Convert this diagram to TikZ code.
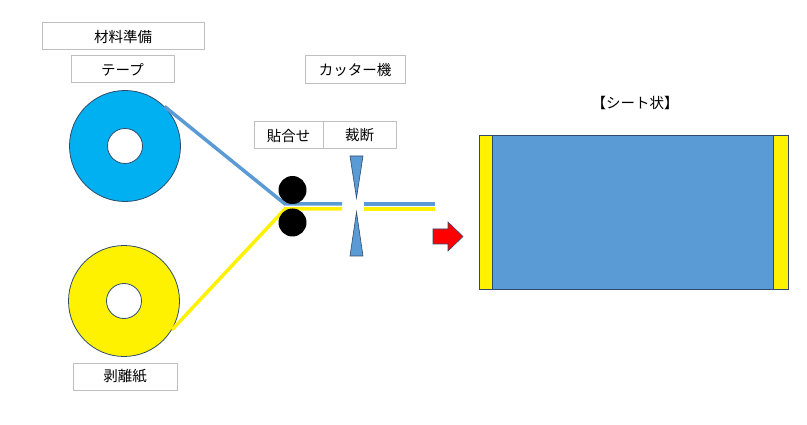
\documentclass[tikz,border=0pt]{standalone}
\usepackage{fontspec}
\newfontfamily\jp{Noto Sans CJK JP}
\usetikzlibrary{positioning}
\usetikzlibrary{calc}
\definecolor{tapeblue}{HTML}{00B0F0}
\definecolor{lineblue}{HTML}{5B9BD5}
\definecolor{edge}{HTML}{2F4B6B}
\definecolor{boxgray}{HTML}{BFBFBF}
\tikzstyle{etiquette}=[
        draw=boxgray,
        line width=1pt,
        inner sep=0pt,
        font=\jp\fontsize{14.5}{17}\selectfont
]
\tikzstyle{bobine}=[circle,draw=edge,line width=0.8pt,inner sep=0pt,minimum size=111pt]
\tikzstyle{trou}=[circle,draw=edge,line width=0.8pt,fill=white,inner sep=0pt,minimum size=35pt]
\tikzstyle{rouleau}=[circle,fill=black,inner sep=0pt,minimum size=28pt]
\tikzstyle{ruban}=[line width=3.5pt]
\tikzstyle{lame}=[draw=edge,line width=0.6pt,fill=lineblue]

\begin{document}
\begin{tikzpicture}[x=1pt,y=-1pt]
\useasboundingbox (0,0) rectangle (807,425);
\node[etiquette,minimum width=162pt,minimum height=27pt] (prep) at (123,36.5) {材料準備};
\node[etiquette,minimum width=103pt,minimum height=27pt] (tapelbl) at (122.5,69.5) {テープ};
\node[etiquette,minimum width=104pt,minimum height=27pt] (paperlbl) at (125,376.5) {剥離紙};
\node[etiquette,minimum width=100pt,minimum height=28pt] (cutter) at (355,70) {カッター機};
\node[etiquette,minimum width=69pt,minimum height=27pt] (bond) at (288.5,135.5) {貼合せ};
\node[etiquette,minimum width=73pt,minimum height=27pt] (cut) at (359.5,135.5) {裁断};
\node[font=\jp\fontsize{14.5}{17}\selectfont] (titre) at (635,103) {【シート状】};
\node[bobine,fill=tapeblue] (tape) at (125,146) {};
\node[trou] (tapehole) at (tape) {};
\node[bobine,fill=yellow] (paper) at (124,301) {};
\node[trou] (paperhole) at (paper) {};
\coordinate (nipb) at (285,204);
\coordinate (nipy) at (285,209);
\coordinate (cutb) at (342,204);
\coordinate (cuty) at (342,209);
\coordinate (restb) at (364,204);
\coordinate (resty) at (364,209);
\coordinate (endb) at (435,204);
\coordinate (endy) at (435,209);
%bandes
\draw[ruban,lineblue] (tape.45) -- (nipb) -- (cutb);
\draw[ruban,yellow] (paper.-31) -- (nipy) -- (cuty);
\draw[ruban,lineblue] (restb) -- (endb);
\draw[ruban,yellow] (resty) -- (endy);
\node[rouleau] (haut) at (292.5,190) {};
\node[rouleau] (bas) at (292.5,222.5) {};
%lames
\draw[lame] (350,156) -- (363,156) -- (356.5,198) -- cycle;
\draw[lame] (356.5,212) -- (363,256) -- (350,256) -- cycle;
\draw[draw=edge,line width=0.6pt,fill=red] (433,229) -- (448,229) -- (448,222) -- (463,236.5) -- (448,251) -- (448,244) -- (433,244) -- cycle;
%feuille
\draw[draw=edge,line width=0.8pt,fill=lineblue] (479,135) rectangle (788,289);
\draw[draw=edge,line width=0.8pt,fill=yellow] (479,135) rectangle (492,289);
\draw[draw=edge,line width=0.8pt,fill=yellow] (773,135) rectangle (788,289);
\end{tikzpicture}
\end{document}
